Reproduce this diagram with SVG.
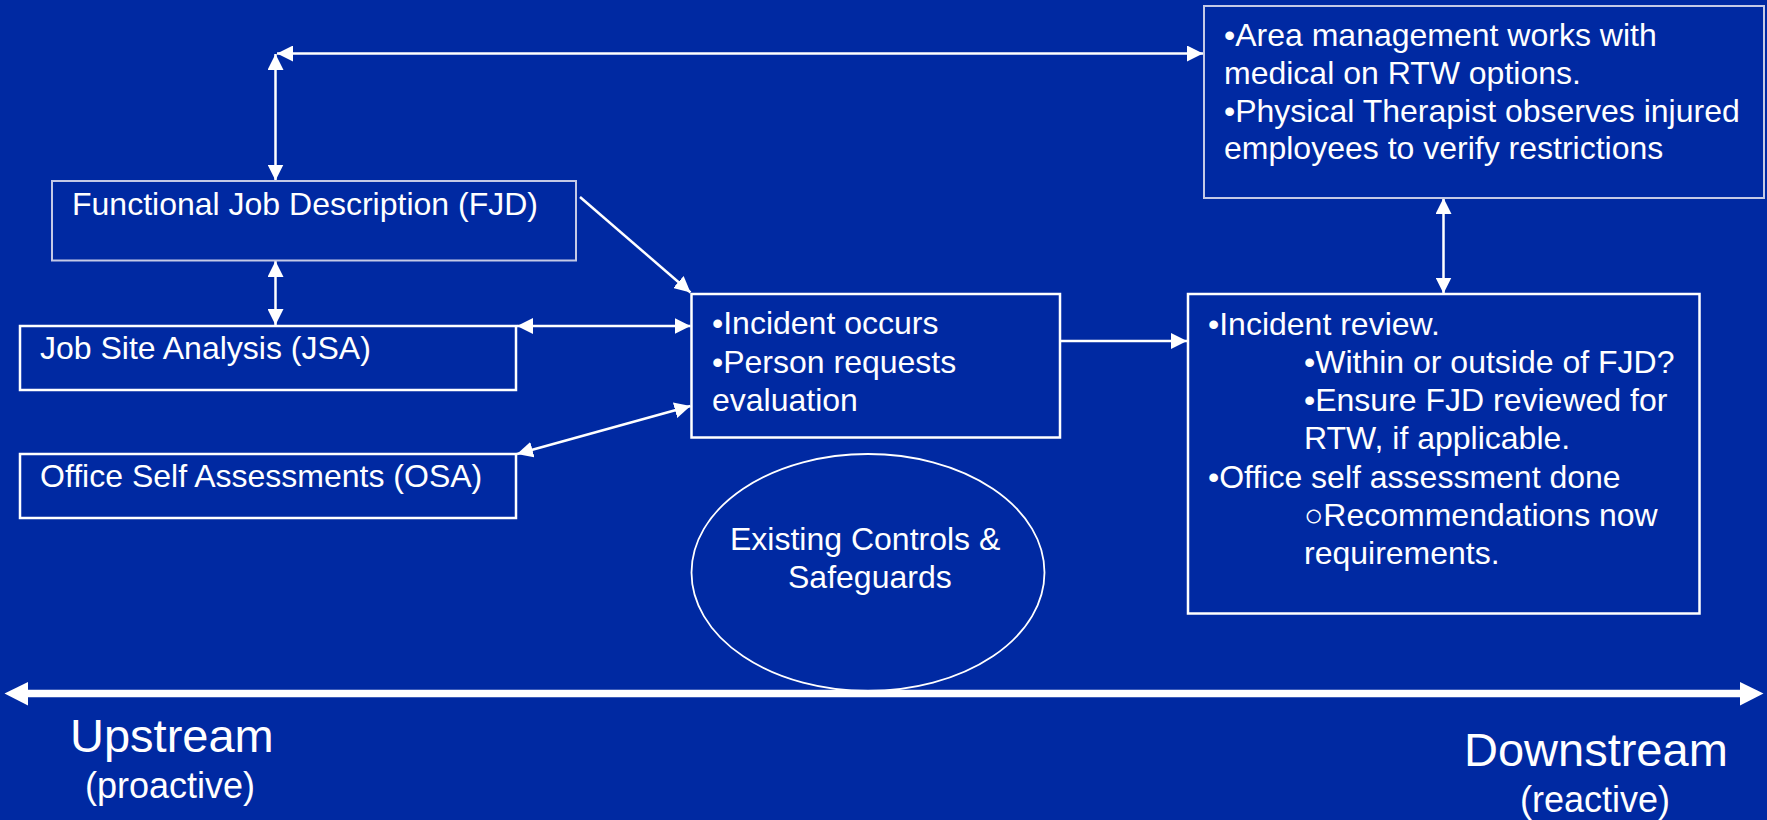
<svg xmlns="http://www.w3.org/2000/svg" width="1767" height="820" viewBox="0 0 1767 820">
<style>
text{font-family:"Liberation Sans",Arial,sans-serif;fill:#fff;font-size:32px}
.lite{fill:none;stroke:#c4c9e6;stroke-width:2}
.box{fill:none;stroke:#fff;stroke-width:2.5}
.conn{stroke:#fff;stroke-width:2.5;fill:none}
.big{font-size:47px}
.sub{font-size:36px}
</style>
<defs>
<marker id="ah" markerUnits="userSpaceOnUse" markerWidth="16" markerHeight="16" refX="16" refY="8" orient="auto-start-reverse">
<path d="M0,0 L16,8 L0,16 z" fill="#fff"/>
</marker>
<marker id="bh" markerUnits="userSpaceOnUse" markerWidth="24" markerHeight="24" refX="23" refY="12" orient="auto-start-reverse">
<path d="M0,0 L23,12 L0,24 z" fill="#fff"/>
</marker>
</defs>
<rect width="1767" height="820" fill="#0029a2"/>

<g id="connectors">
<line class="conn" x1="277" y1="53.5" x2="1203" y2="53.5" marker-start="url(#ah)" marker-end="url(#ah)"/>
<line class="conn" x1="275.5" y1="54" x2="275.5" y2="180.5" marker-start="url(#ah)" marker-end="url(#ah)"/>
<line class="conn" x1="275.5" y1="261" x2="275.5" y2="325" marker-start="url(#ah)" marker-end="url(#ah)"/>
<line class="conn" x1="580" y1="197" x2="690.5" y2="292.5" marker-end="url(#ah)"/>
<line class="conn" x1="517" y1="326" x2="690.5" y2="326" marker-start="url(#ah)" marker-end="url(#ah)"/>
<line class="conn" x1="517" y1="454" x2="690.5" y2="406" marker-start="url(#ah)" marker-end="url(#ah)"/>
<line class="conn" x1="1060" y1="341" x2="1187" y2="341" marker-end="url(#ah)"/>
<line class="conn" x1="1443.5" y1="198" x2="1443.5" y2="293.5" marker-start="url(#ah)" marker-end="url(#ah)"/>
<line x1="28" y1="693.5" x2="1740" y2="693.5" stroke="#fff" stroke-width="7.5"/>
<path d="M4.5,693.5 L28,682 L28,705.5 z" fill="#fff"/>
<path d="M1763.5,693.5 L1740,682 L1740,705.5 z" fill="#fff"/>
</g>

<g id="fjd">
<rect class="lite" x="52" y="181" width="524" height="79.5"/>
<text x="72" y="215">Functional Job Description (FJD)</text>
</g>

<g id="jsa">
<rect class="box" x="20" y="326" width="496" height="64"/>
<text x="40" y="359">Job Site Analysis (JSA)</text>
</g>

<g id="osa">
<rect class="box" x="20" y="454" width="496" height="64"/>
<text x="40" y="487">Office Self Assessments (OSA)</text>
</g>

<g id="incident">
<rect class="box" x="691.5" y="294" width="368.5" height="143.5"/>
<text x="712" y="334">•Incident occurs</text>
<text x="712" y="372.5">•Person requests</text>
<text x="712" y="411">evaluation</text>
</g>

<g id="controls">
<ellipse cx="868" cy="572.5" rx="176.5" ry="118.5" fill="none" stroke="#fff" stroke-width="1.8"/>
<text x="730" y="549.5">Existing Controls &amp;</text>
<text x="788" y="587.5">Safeguards</text>
</g>

<g id="rtw">
<rect class="lite" x="1204" y="6" width="560" height="192"/>
<text x="1224" y="45.5">•Area management works with</text>
<text x="1224" y="83.5">medical on RTW options.</text>
<text x="1224" y="121.5">•Physical Therapist observes injured</text>
<text x="1224" y="158.5">employees to verify restrictions</text>
</g>

<g id="review">
<rect class="box" x="1188" y="294" width="511.5" height="319.5"/>
<text x="1208" y="334.5">•Incident review.</text>
<text x="1304" y="372.5">•Within or outside of FJD?</text>
<text x="1304" y="411">•Ensure FJD reviewed for</text>
<text x="1304" y="449">RTW, if applicable.</text>
<text x="1208" y="487.5">•Office self assessment done</text>
<text x="1304" y="526">○Recommendations now</text>
<text x="1304" y="564">requirements.</text>
</g>

<g id="labels">
<text class="big" x="70" y="751.5">Upstream</text>
<text class="sub" x="85" y="798">(proactive)</text>
<text class="big" x="1464" y="766">Downstream</text>
<text class="sub" x="1520" y="811.5">(reactive)</text>
</g>
</svg>
